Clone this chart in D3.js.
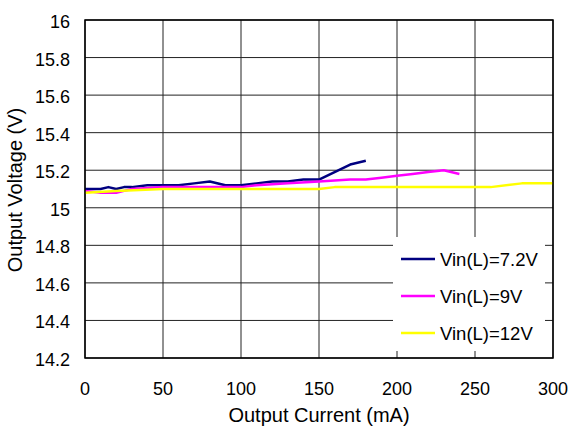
<!DOCTYPE html>
<html>
<head>
<meta charset="utf-8">
<script src="https://cdn.jsdelivr.net/npm/d3@7.9.0/dist/d3.min.js"></script>
<style>
  body { margin: 0; background: #fff; }
  text { font-family: "Liberation Sans", Arial, sans-serif; }
</style>
</head>
<body>
<svg id="chart" width="572" height="433"></svg>
<script>
// data
const current72 = [0, 10, 15, 20, 25, 30, 40, 50, 60, 70, 80, 90, 100, 110, 120, 130, 140, 150, 160, 170, 180];
const volt72    = [15.10, 15.10, 15.11, 15.10, 15.11, 15.11, 15.12, 15.12, 15.12, 15.13, 15.14, 15.12, 15.12, 15.13, 15.14, 15.14, 15.15, 15.15, 15.19, 15.23, 15.25];

const current9 = [0, 10, 20, 25, 30, 50, 70, 90, 100, 110, 130, 150, 170, 180, 190, 200, 210, 220, 230, 240];
const volt9    = [15.09, 15.08, 15.08, 15.09, 15.10, 15.11, 15.11, 15.11, 15.11, 15.12, 15.13, 15.14, 15.15, 15.15, 15.16, 15.17, 15.18, 15.19, 15.20, 15.18];

const current12 = [0, 20, 50, 100, 150, 160, 200, 240, 260, 280, 300];
const volt12    = [15.08, 15.09, 15.10, 15.10, 15.10, 15.11, 15.11, 15.11, 15.11, 15.13, 15.13];

const seriesNames = ["Vin(L)=7.2V", "Vin(L)=9V", "Vin(L)=12V"];
const seriesColors = ["#000080", "#ff00ff", "#ffff00"];
const xTicks = [0, 50, 100, 150, 200, 250, 300];
const yTicks = [14.2, 14.4, 14.6, 14.8, 15, 15.2, 15.4, 15.6, 15.8, 16];

const series = [
  current72.map((c, i) => [c, volt72[i]]),
  current9.map((c, i) => [c, volt9[i]]),
  current12.map((c, i) => [c, volt12[i]])
];

const svg = d3.select("#chart");
const pLeft = 85, pRight = 553, pTop = 20, pBottom = 358;

const x = d3.scaleLinear().domain([0, 300]).range([pLeft, pRight]);
const y = d3.scaleLinear().domain([14.2, 16]).range([pBottom, pTop]);

// grid
svg.append("g").selectAll("line").data(yTicks).enter().append("line")
  .attr("x1", pLeft).attr("x2", pRight)
  .attr("y1", d => y(d)).attr("y2", d => y(d))
  .attr("stroke", "#222").attr("stroke-width", 1);
svg.append("g").selectAll("line").data(xTicks).enter().append("line")
  .attr("y1", pTop).attr("y2", pBottom)
  .attr("x1", d => x(d)).attr("x2", d => x(d))
  .attr("stroke", "#222").attr("stroke-width", 1);

// tick labels
svg.append("g").selectAll("text").data(yTicks).enter().append("text")
  .attr("x", 70).attr("y", d => y(d) + 8)
  .attr("text-anchor", "end").attr("font-size", 18)
  .text(d => +d.toFixed(1));
svg.append("g").selectAll("text").data(xTicks).enter().append("text")
  .attr("x", d => x(d)).attr("y", 395)
  .attr("text-anchor", "middle").attr("font-size", 18)
  .text(d => d);

// lines
const line = d3.line().x(d => x(d[0])).y(d => y(d[1]));
series.forEach((s, i) => {
  svg.append("path").datum(s)
    .attr("d", line)
    .attr("fill", "none")
    .attr("stroke", seriesColors[i])
    .attr("stroke-width", 2.5)
    .attr("stroke-linejoin", "round");
});

// legend
svg.append("rect")
  .attr("x", 393).attr("y", 237).attr("width", 152).attr("height", 114)
  .attr("fill", "#fff");
const lg = svg.append("g").selectAll("g").data(seriesNames).enter().append("g")
  .attr("transform", (d, i) => `translate(401, ${259 + i * 37})`);
lg.append("line").attr("x1", 0).attr("x2", 34)
  .attr("stroke", (d, i) => seriesColors[i]).attr("stroke-width", 2.5);
lg.append("text").attr("x", 39).attr("y", 6.5)
  .attr("font-size", 18.5).text(d => d);

// frame
svg.append("rect")
  .attr("x", pLeft).attr("y", pTop).attr("width", pRight - pLeft).attr("height", pBottom - pTop)
  .attr("fill", "none").attr("stroke", "#000").attr("stroke-width", 1.5);

// axis titles
svg.append("text")
  .attr("x", 319).attr("y", 422)
  .attr("text-anchor", "middle").attr("font-size", 20)
  .text("Output Current (mA)");
svg.append("text")
  .attr("transform", `translate(22, 190) rotate(-90)`)
  .attr("text-anchor", "middle").attr("font-size", 20)
  .text("Output Voltage (V)");
</script>
</body>
</html>
